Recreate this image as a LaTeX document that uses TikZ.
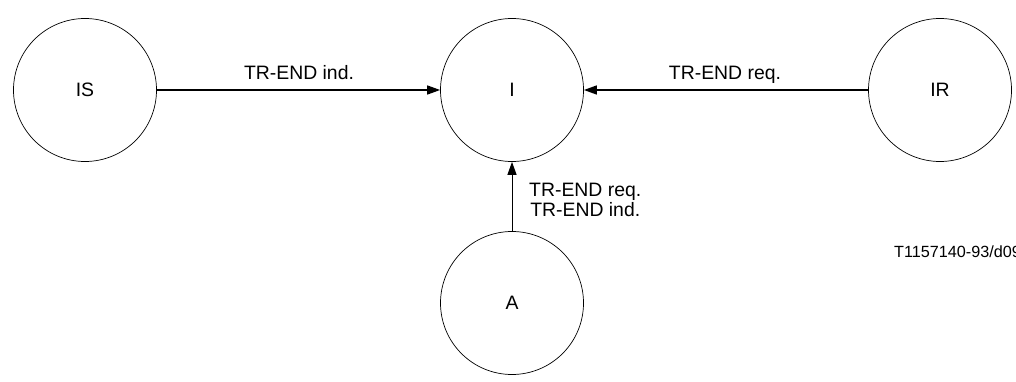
\documentclass[tikz,border=0pt]{standalone}
\usepackage{fontspec}
\setmainfont{Liberation Sans}
\usetikzlibrary{arrows.meta}
\begin{document}
\begin{tikzpicture}[x=1pt,y=-1pt,
  state/.style={draw, circle, minimum size=143pt, inner sep=0pt, line width=0.7pt,
    font=\fontsize{19.4}{20}\selectfont},
  flow/.style={line width=1.4pt, -{Triangle[length=13pt,width=9pt]}},
  vflow/.style={line width=1pt, -{Triangle[length=13pt,width=9pt]}},
  lbl/.style={inner sep=0pt, font=\fontsize{19.4}{20}\selectfont},
  ref/.style={inner sep=0pt, font=\fontsize{16.2}{18}\selectfont}]
\useasboundingbox (0,0) rectangle (1016,382);
\clip (0,0) rectangle (1016,382);
\node[state] (IS) at (85,90) {IS};
\node[state] (I) at (512,90) {I};
\node[state] (IR) at (940,90) {IR};
\node[state] (A) at (512,303) {A};
\draw[flow] (IS) -- (I);
\draw[flow] (IR) -- (I);
\draw[vflow] (A) -- (I);
\node[lbl, anchor=base] (l1) at (299,79.3) {TR-END ind.};
\node[lbl, anchor=base] (l2) at (725,79.3) {TR-END req.};
\node[lbl, anchor=north west, align=center] (l3) at (529,182.7) {TR-END req.\\TR-END ind.};
\node[ref, anchor=base west] (r) at (894,257.7) {T1157140-93/d09};
\end{tikzpicture}
\end{document}
